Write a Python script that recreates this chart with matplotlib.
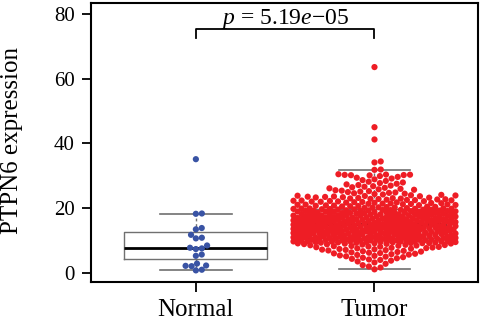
import numpy as np
import matplotlib
matplotlib.use("Agg")
import matplotlib.pyplot as plt

plt.rcParams['font.family'] = ['Liberation Serif', 'DejaVu Serif']
plt.rcParams['mathtext.fontset'] = 'custom'
plt.rcParams['mathtext.rm'] = 'Liberation Serif'
plt.rcParams['mathtext.it'] = 'Liberation Serif:italic'

groups = ["Normal", "Tumor"]
colors = ["#3953A4", "#EE1D25"]

normal = [0.7, 0.9, 2.0, 2.1, 2.2, 2.8, 5.2, 5.6, 7.3, 7.5, 7.7, 8.4,
          10.6, 10.8, 11.7, 13.4, 13.8, 18.2, 18.3, 35.1]

tumor = [
    1.02, 1.58, 1.91,
    2.31, 2.74,
    3.15, 3.46, 3.71, 3.93,
    4.08, 4.27, 4.45, 4.61, 4.79, 4.94,
    5.06, 5.19, 5.33, 5.47, 5.58, 5.71, 5.84, 5.95,
    6.05, 6.16, 6.28, 6.39, 6.51, 6.62, 6.74, 6.86, 6.97,
    7.04, 7.13, 7.22, 7.31, 7.41, 7.50, 7.59, 7.68, 7.78, 7.87, 7.96,
    8.03, 8.10, 8.18, 8.25, 8.32, 8.39, 8.47, 8.54, 8.61, 8.68, 8.76, 8.83,
    8.90, 8.97,
    9.01, 9.05, 9.09, 9.12, 9.14, 9.18, 9.22, 9.26, 9.31, 9.35, 9.39, 9.43,
    9.46, 9.48, 9.52, 9.56, 9.60, 9.63, 9.65, 9.69, 9.73, 9.77, 9.81, 9.85,
    9.88, 9.90, 9.94, 9.98,
    10.02, 10.05, 10.09, 10.11, 10.14, 10.16, 10.21, 10.27, 10.30, 10.33,
    10.38, 10.41, 10.44, 10.47, 10.50, 10.52, 10.58, 10.61, 10.64, 10.69,
    10.72, 10.75, 10.79, 10.81, 10.83, 10.86, 10.90, 10.93, 10.96, 10.99,
    11.01, 11.04, 11.08, 11.15, 11.19, 11.22, 11.24, 11.29, 11.33, 11.36,
    11.43, 11.47, 11.50, 11.53, 11.55, 11.60, 11.63, 11.66, 11.70, 11.76,
    11.80, 11.83, 11.87, 11.94, 11.97,
    12.01, 12.03, 12.07, 12.11, 12.13, 12.18, 12.20, 12.24, 12.27, 12.31,
    12.34, 12.36, 12.40, 12.44, 12.47, 12.50, 12.53, 12.57, 12.60, 12.63,
    12.66, 12.70, 12.73, 12.76, 12.80, 12.83, 12.87, 12.90, 12.94, 12.97,
    13.02, 13.04, 13.08, 13.12, 13.14, 13.17, 13.21, 13.25, 13.28, 13.31,
    13.35, 13.37, 13.41, 13.44, 13.48, 13.51, 13.54, 13.58, 13.61, 13.64,
    13.67, 13.71, 13.74, 13.77, 13.81, 13.84, 13.88, 13.91, 13.95, 13.98,
    14.01, 14.05, 14.07, 14.11, 14.15, 14.18, 14.22, 14.24, 14.28, 14.32,
    14.35, 14.38, 14.42, 14.45, 14.49, 14.52, 14.55, 14.59, 14.62, 14.65,
    14.69, 14.72, 14.75, 14.79, 14.82, 14.86, 14.89, 14.92, 14.96, 14.99,
    15.03, 15.06, 15.10, 15.13, 15.17, 15.21, 15.24, 15.27, 15.31, 15.35,
    15.38, 15.42, 15.45, 15.48, 15.52, 15.56, 15.59, 15.63, 15.66, 15.70,
    15.73, 15.77, 15.80, 15.84, 15.87, 15.91, 15.94, 15.98,
    16.02, 16.06, 16.09, 16.11, 16.13, 16.17, 16.21, 16.25, 16.29, 16.32,
    16.36, 16.40, 16.44, 16.48, 16.52, 16.55, 16.57, 16.59, 16.63, 16.67,
    16.71, 16.75, 16.79, 16.83, 16.86, 16.90, 16.94, 16.98,
    17.03, 17.07, 17.11, 17.15, 17.19, 17.21, 17.24, 17.28, 17.32, 17.36,
    17.41, 17.45, 17.49, 17.53, 17.57, 17.62, 17.66, 17.68, 17.70, 17.74,
    17.78, 17.83, 17.87, 17.91, 17.95, 17.99,
    18.02, 18.07, 18.11, 18.14, 18.16, 18.20, 18.25, 18.29, 18.34, 18.38,
    18.43, 18.47, 18.52, 18.56, 18.58, 18.61, 18.65, 18.70, 18.74, 18.79,
    18.83, 18.88, 18.92, 18.97,
    19.03, 19.07, 19.10, 19.12, 19.16, 19.21, 19.26, 19.30, 19.35, 19.40,
    19.44, 19.47, 19.49, 19.54, 19.58, 19.63, 19.68, 19.72, 19.75, 19.77,
    19.82, 19.86, 19.91, 19.96,
    20.03, 20.09, 20.16, 20.22, 20.29, 20.35, 20.42, 20.48, 20.55, 20.61,
    20.68, 20.74, 20.81, 20.87, 20.93, 20.98,
    21.04, 21.10, 21.17, 21.23, 21.29, 21.36, 21.42, 21.48, 21.55, 21.61,
    21.67, 21.74, 21.80, 21.86, 21.92, 21.98,
    22.04, 22.10, 22.17, 22.24, 22.30, 22.37, 22.43, 22.50, 22.57, 22.63,
    22.70, 22.77, 22.83, 22.90, 22.96,
    23.04, 23.11, 23.19, 23.26, 23.34, 23.42, 23.49, 23.57, 23.64, 23.72,
    23.80, 23.87, 23.95,
    24.06, 24.18, 24.31, 24.43, 24.56, 24.68, 24.81, 24.93,
    25.07, 25.21, 25.36, 25.50, 25.64, 25.79, 25.93,
    26.08, 26.25, 26.42, 26.58, 26.75, 26.92,
    27.10, 27.30, 27.50, 27.70, 27.90,
    28.12, 28.37, 28.62, 28.87,
    29.12, 29.37, 29.62, 29.87,
    30.10, 30.15, 30.20, 30.25, 30.30, 30.35, 30.45,
    31.80, 31.90,
    34.1, 34.4, 41.2, 45.0, 63.6,
]

# box statistics (Normal, Tumor)
box_whislo = [0.7, 1.0]
box_q1 = [4.1, 10.8]
box_med = [7.5, 15.0]
box_q3 = [12.5, 19.6]
box_whishi = [18.2, 31.9]

p_label = "$p$ = 5.19$e$\u221205"


def swarm_offsets(y_px, d, limit):
    # greedy beeswarm in pixel space: lowest points first, each one as
    # close to the centre line as it can go without touching the others
    order = np.argsort(y_px, kind="stable")
    xs = np.zeros(len(y_px))
    px, py = [], []
    for i in order:
        yi = y_px[i]
        ax_ = np.array(px)
        ay_ = np.array(py)
        if len(ax_):
            near = np.abs(ay_ - yi) < d
            nx, ny = ax_[near], ay_[near]
        else:
            nx, ny = np.array([]), np.array([])
        cands = np.array([0.0])
        if len(nx):
            dx = np.sqrt(d ** 2 - (ny - yi) ** 2)
            cands = np.concatenate([[0.0], nx + dx, nx - dx])
        cands = cands[np.argsort(np.abs(cands), kind="stable")]
        chosen = None
        for c in cands:
            if abs(c) > limit:
                break
            if len(nx) == 0 or np.all((nx - c) ** 2 + (ny - yi) ** 2 >= d ** 2 - 1e-6):
                chosen = c
                break
        if chosen is None:
            # no free slot inside the limit: take the least crowded spot
            grid = np.linspace(-limit, limit, 81)
            dist = np.min((grid[:, None] - nx[None, :]) ** 2 + ((ny - yi) ** 2)[None, :], axis=1)
            chosen = grid[np.argmax(dist)]
        xs[i] = chosen
        px.append(chosen)
        py.append(yi)
    return xs


fig = plt.figure(figsize=(4.8, 3.27), dpi=100)
ax = fig.add_axes([0.19, 0.1376, 0.806, 0.852])
ax.set_xlim(0.414, 2.58)
ax.set_ylim(-2.9, 83.3)

stats = []
for k, g in enumerate(groups):
    stats.append(dict(label=g, whislo=box_whislo[k], q1=box_q1[k], med=box_med[k],
                      q3=box_q3[k], whishi=box_whishi[k], fliers=[]))
ax.bxp(stats, positions=[1, 2], widths=0.8, capwidths=0.4, showfliers=False,
       boxprops=dict(color="#707070", linewidth=1.0),
       whiskerprops=dict(color="#707070", linewidth=1.0, linestyle=(0, (2, 2))),
       capprops=dict(color="#707070", linewidth=1.2),
       medianprops=dict(color="black", linewidth=2.0),
       manage_ticks=False, zorder=1)

# points on top of the boxes
x_unit_px = ax.transData.transform((2, 0))[0] - ax.transData.transform((1, 0))[0]
for k, (vals, col) in enumerate(zip([normal, tumor], colors)):
    vals = np.asarray(vals, dtype=float)
    y_px = ax.transData.transform(np.column_stack([np.zeros_like(vals), vals]))[:, 1]
    d = 6.0 if k == 0 else 6.3
    off = swarm_offsets(y_px, d, 81)
    ax.scatter(k + 1 + off / x_unit_px, vals, s=20, color=col, edgecolors="none", zorder=3)

# significance bracket
ax.plot([1, 1, 2, 2], [72.6, 75.4, 75.4, 72.6], color="black", linewidth=1.3, zorder=4)
ax.text(1.5, 77.0, p_label, ha="center", va="baseline", fontsize=17)

ax.set_yticks([0, 20, 40, 60, 80])
ax.set_xticks([1, 2])
ax.set_xticklabels(groups, fontsize=18)
ax.tick_params(axis="y", labelsize=15, length=6.5, width=1.3, pad=5.5)
ax.tick_params(axis="x", length=7, width=1.3, pad=5)
for s in ax.spines.values():
    s.set_linewidth(1.5)
ax.set_ylabel("PTPN6 expression", fontsize=18)
ax.yaxis.set_label_coords(-0.176, 0.508)

fig.savefig("out.png", dpi=100)
